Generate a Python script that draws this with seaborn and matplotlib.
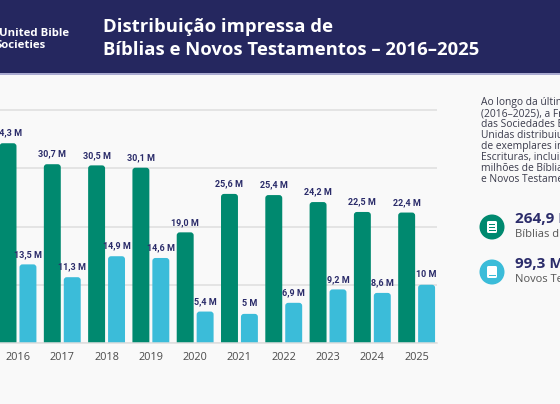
import pandas as pd
import seaborn as sns
import matplotlib.pyplot as plt
from matplotlib.patches import FancyBboxPatch, Rectangle, Circle

# Dados (milhões de exemplares)
anos = ["2016", "2017", "2018", "2019", "2020", "2021", "2022", "2023", "2024", "2025"]
biblias = [34.3, 30.7, 30.5, 30.1, 19.0, 25.6, 25.4, 24.2, 22.5, 22.4]
novos_test = [13.5, 11.3, 14.9, 14.6, 5.4, 5.0, 6.9, 9.2, 8.6, 10.0]
tipos = ["Bíblias", "Novos Testamentos"]

texto_lateral = [
    "Ao longo da última década",
    "(2016–2025), a Fraternidade",
    "das Sociedades Bíblicas",
    "Unidas distribuiu milhões",
    "de exemplares impressos das",
    "Escrituras, incluindo",
    "milhões de Bíblias",
    "e Novos Testamentos.",
]
total_biblias = "264,9 M"
total_nt = "99,3 M"

VERDE = "#00896f"
CIANO = "#3bbcd9"
MARINHO = "#25275f"
TEXTO = "#2b2c6a"
FUNDO = "#f9f9f9"

df = pd.DataFrame({
    "ano": anos * 2,
    "tipo": [tipos[0]] * len(anos) + [tipos[1]] * len(anos),
    "valor": biblias + novos_test,
})

sns.set_style("white")
plt.rcParams["font.family"] = ["Open Sans", "DejaVu Sans"]

fig = plt.figure(figsize=(5.6, 4.04), dpi=100)
fig.patch.set_facecolor(FUNDO)

# camada de decoração em pixels
deco = fig.add_axes([0, 0, 1, 1], zorder=0)
deco.set_xlim(0, 560)
deco.set_ylim(404, 0)
deco.axis("off")
deco.add_patch(Rectangle((0, 0), 560, 73, color=MARINHO, lw=0))
deco.add_patch(Rectangle((0, 73), 560, 2, color="#a9aad0", lw=0))

deco.text(-1, 36, "United Bible", color="white", fontsize=8.2, fontweight="bold", va="baseline")
deco.text(-4, 48, "Societies", color="white", fontsize=8.2, fontweight="bold", va="baseline")
deco.text(103, 32, "Distribuição impressa de", color="white", fontsize=13.3,
          fontweight="bold", va="baseline")
deco.text(103, 55, "Bíblias e Novos Testamentos – 2016–2025", color="white", fontsize=13.3,
          fontweight="bold", va="baseline")

for i, linha in enumerate(texto_lateral):
    deco.text(481, 105 + 11 * i, linha, color="#3a3b4c", fontsize=7.4, va="baseline")

# ícones
for cy, cor, valor, rotulo in [(227, VERDE, total_biblias, "Bíblias distribuídas"),
                               (272, CIANO, total_nt, "Novos Testamentos distribuídos")]:
    deco.add_patch(Circle((492, cy), 12.5, color=cor, lw=0))
    deco.add_patch(FancyBboxPatch((487, cy - 6), 10, 12, boxstyle="round,pad=0,rounding_size=1.5",
                                  fc="white", ec="none"))
    deco.add_patch(Rectangle((488.5, cy + 3), 7, 1.2, color=cor, lw=0))
    if cor == VERDE:
        deco.add_patch(Rectangle((489, cy - 3), 6, 1.2, color=cor, lw=0))
        deco.add_patch(Rectangle((489, cy - 0.5), 6, 1.2, color=cor, lw=0))
    deco.text(515, cy - 4, valor, color=TEXTO, fontsize=11, fontweight="bold", va="baseline")
    deco.text(515, cy + 10, rotulo, color="#555555", fontsize=8, va="baseline")

# gráfico de barras
ax = fig.add_axes([0, 1 - 343 / 404, 437 / 560, 244.6 / 404], zorder=1)
ax.set_facecolor("none")
sns.barplot(data=df, x="ano", y="valor", hue="tipo", palette=[VERDE, CIANO],
            width=0.9, gap=0.15, legend=False, ax=ax, saturation=1)
ax.set_xlim(-0.406, 9.46)
ax.set_ylim(0, 42)
ax.set_yticks([0, 10, 20, 30, 40])
ax.yaxis.grid(True, color="#dedede", lw=1.1)
ax.set_axisbelow(True)
ax.tick_params(axis="y", left=False, labelleft=False)
ax.tick_params(axis="x", bottom=False, labelsize=7.8, labelcolor="#4a4a4a", pad=3)
ax.set_xlabel("")
ax.set_ylabel("")
for s in ["top", "right", "left"]:
    ax.spines[s].set_visible(False)
ax.spines["bottom"].set_color("#dedede")
ax.spines["bottom"].set_linewidth(1.1)

fmt_b = lambda v: f"{v:.1f}".replace(".", ",") + " M"
fmt_n = lambda v: f"{v:g}".replace(".", ",") + " M"
ax.bar_label(ax.containers[0], labels=[fmt_b(v) for v in biblias], padding=4,
             fontsize=6.5, fontweight="bold", color=TEXTO, family=["Roboto", "DejaVu Sans"])
ax.bar_label(ax.containers[1], labels=[fmt_n(v) for v in novos_test], padding=4,
             fontsize=6.5, fontweight="bold", color=TEXTO, family=["Roboto", "DejaVu Sans"])

# cantos arredondados
px_x = (437) / (9.46 + 0.406)
px_y = 244.6 / 42
r = 3 / px_x
asp = px_x / px_y
for cont in ax.containers:
    for p in cont.patches:
        x, y, w, h = p.get_x(), p.get_y(), p.get_width(), p.get_height()
        cor = p.get_facecolor()
        p.set_visible(False)
        ax.add_patch(FancyBboxPatch((x, y - 2), w, h + 2,
                                    boxstyle=f"round,pad=0,rounding_size={r}",
                                    mutation_aspect=asp, fc=cor, ec="none", zorder=2))

fig.savefig("out.png", dpi=100, facecolor=fig.get_facecolor())
